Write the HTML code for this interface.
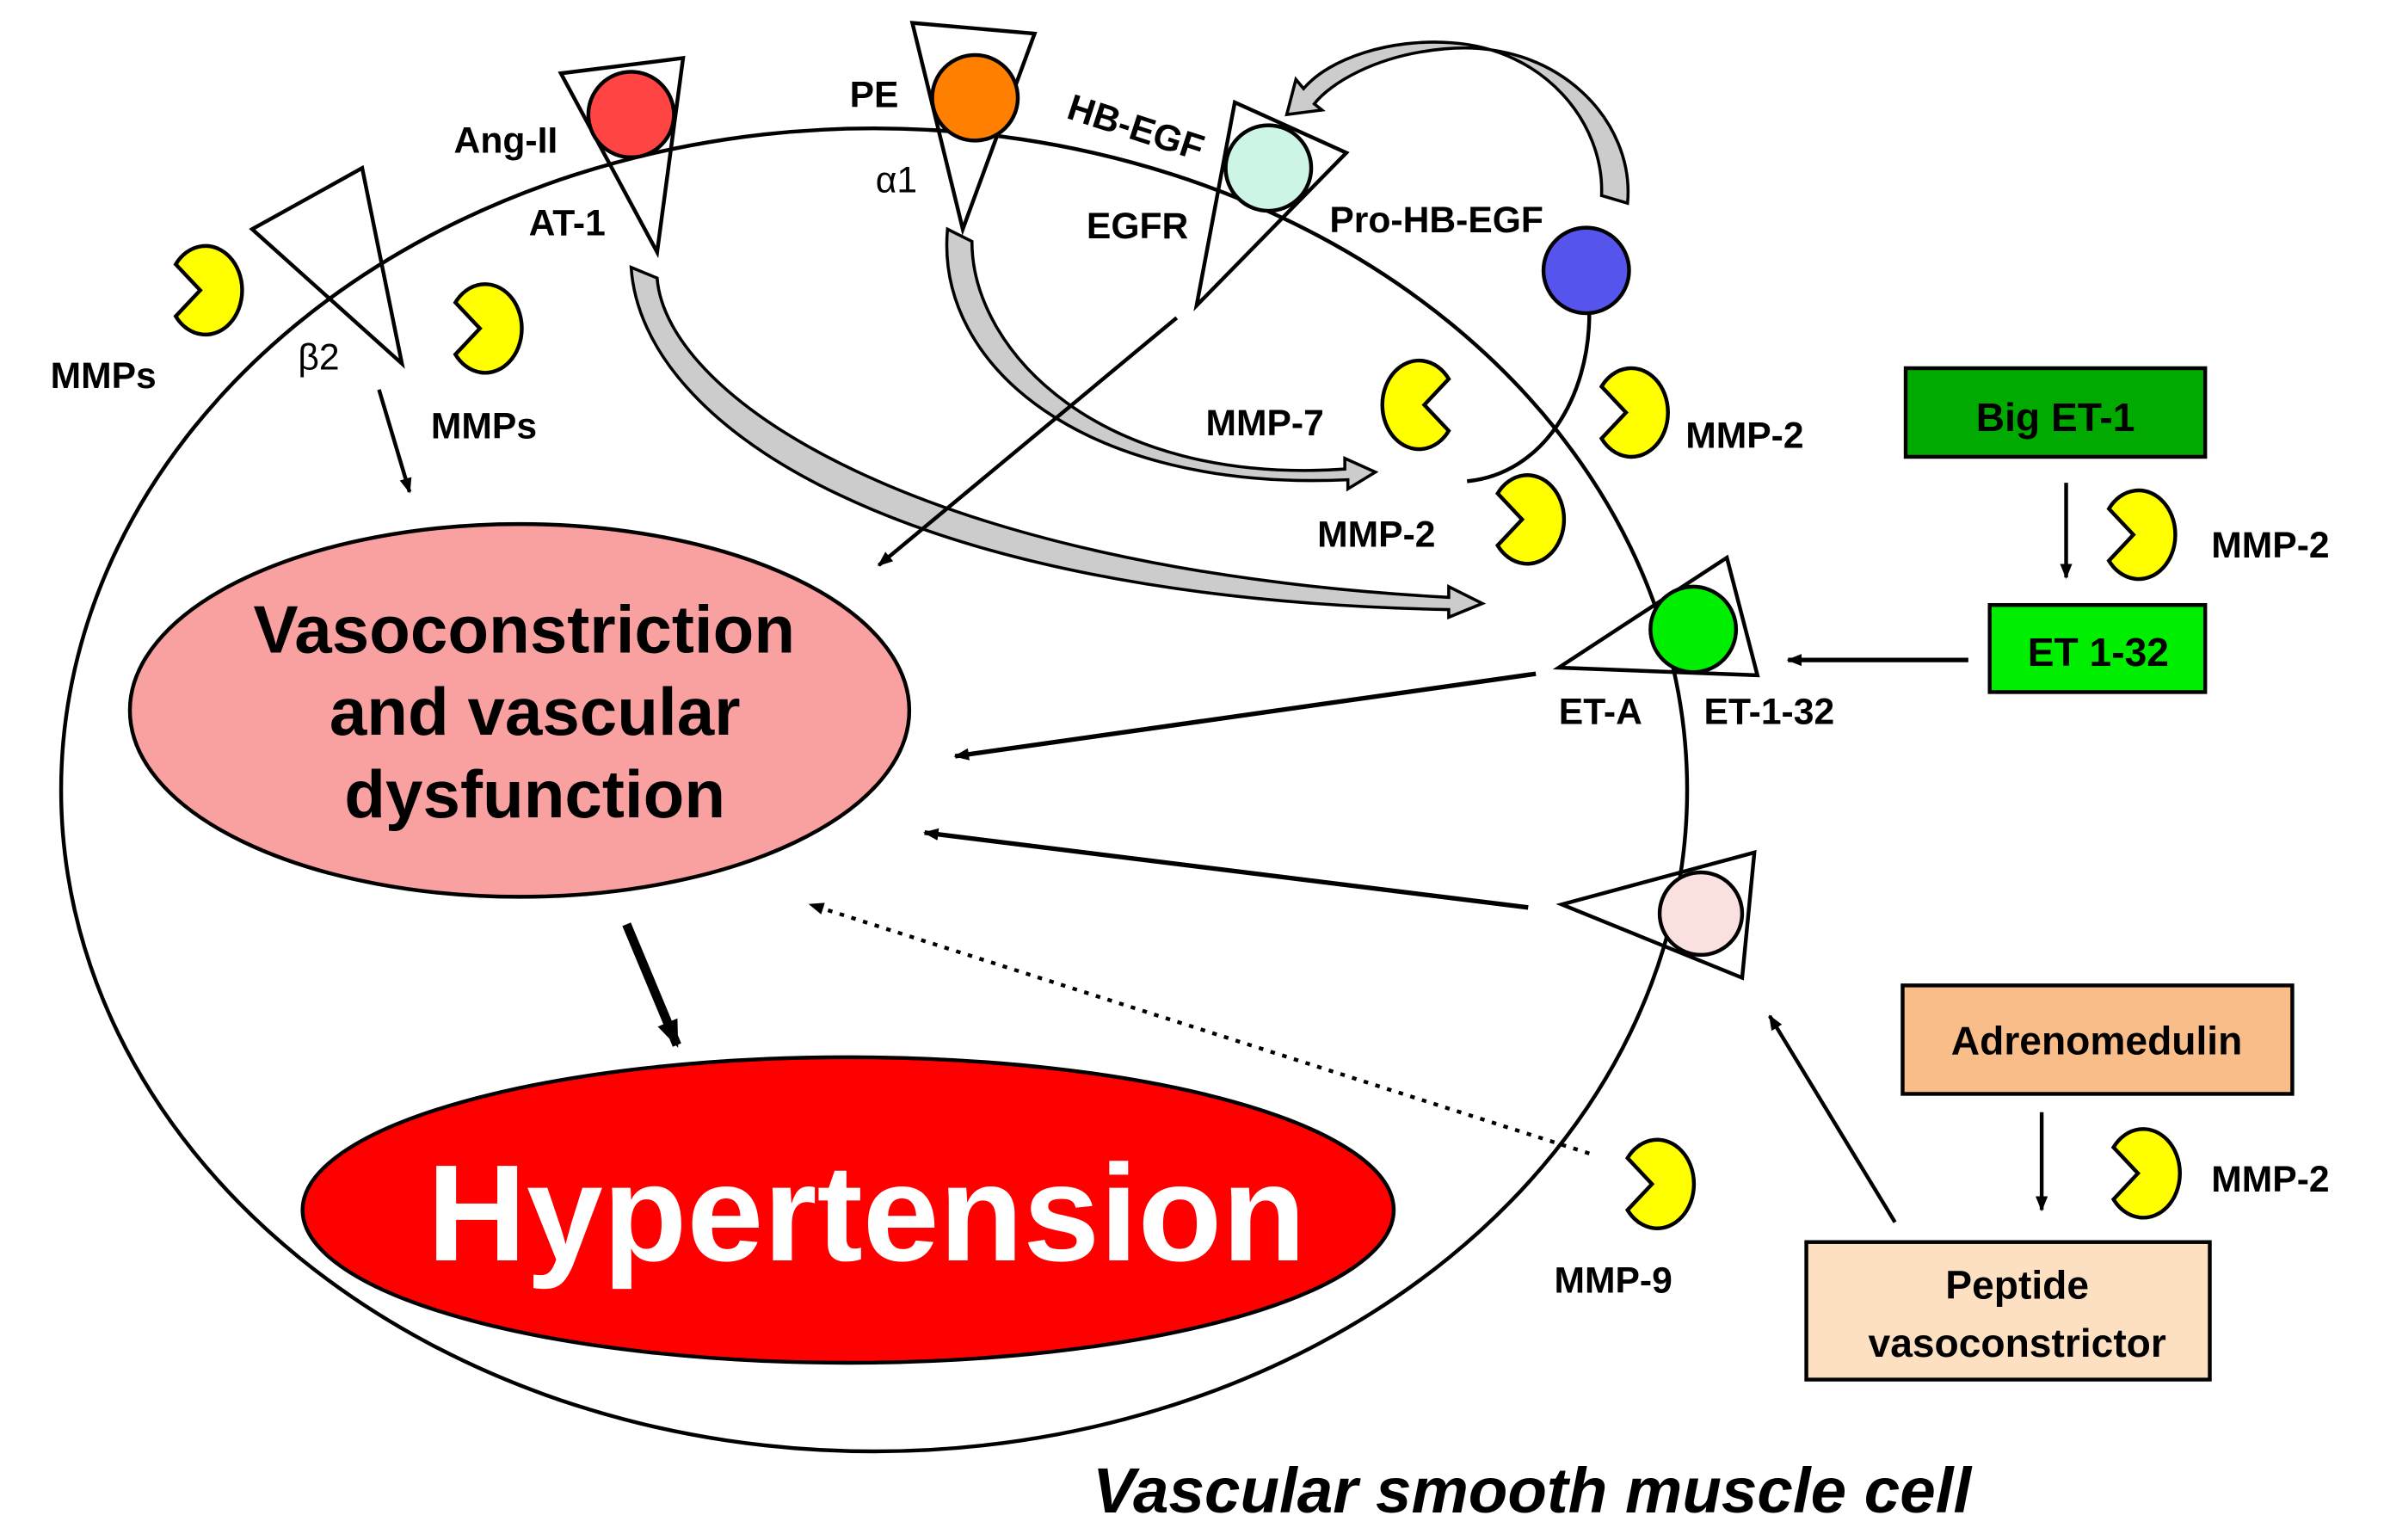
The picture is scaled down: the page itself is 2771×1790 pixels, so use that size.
<!DOCTYPE html>
<html><head><meta charset="utf-8"><style>
html,body{margin:0;padding:0;background:#fff;}
svg{display:block;}
text{font-family:"Liberation Sans",Arial,sans-serif;font-weight:bold;fill:#000;}
</style></head><body>
<svg width="2771" height="1790" viewBox="0 0 1560 1008" preserveAspectRatio="none" xmlns="http://www.w3.org/2000/svg">
<defs>
<marker id="ah" markerWidth="10" markerHeight="8" refX="9" refY="4" orient="auto" markerUnits="userSpaceOnUse" viewBox="0 0 10 8"><path d="M0,0 L10,4 L0,8 z" fill="#000"/></marker>
<marker id="ah2" markerWidth="18" markerHeight="14" refX="16" refY="7" orient="auto" markerUnits="userSpaceOnUse" viewBox="0 0 18 14"><path d="M0,0 L18,7 L0,14 z" fill="#000"/></marker>
<g id="pac"><path d="M-4,0 L-20,-17 A24,29 0 1 1 -20,17 Z" fill="#ffff00" stroke="#000" stroke-width="2.5"/></g>
</defs>
<!-- cell -->
<ellipse cx="572" cy="517" rx="532" ry="433" fill="none" stroke="#000" stroke-width="2.5"/>
<!-- ellipses -->
<ellipse cx="340" cy="465" rx="255" ry="122" fill="#f9a0a0" stroke="#000" stroke-width="2.5"/>
<text x="343" y="427" font-size="44" text-anchor="middle">Vasoconstriction</text>
<text x="350" y="481" font-size="44" text-anchor="middle">and vascular</text>
<text x="350" y="535" font-size="44" text-anchor="middle">dysfunction</text>
<ellipse cx="555" cy="792" rx="357" ry="100" fill="#ff0000" stroke="#000" stroke-width="2.5"/>
<text x="567" y="825" font-size="90" text-anchor="middle" style="fill:#fff">Hypertension</text>
<!-- curves -->
<path d="M413,175 L430,182 C436,260 600,372 948,391 L948,384 L970,395 L948,404 L948,399 C590,392 420,280 413,175 Z" fill="#ccc" stroke="#000" stroke-width="2"/>
<path d="M620,150 L636,158 C636,230 720,318 880,307 L880,300 L900,309 L882,320 L882,314 C710,322 612,240 620,150 Z" fill="#ccc" stroke="#000" stroke-width="2"/>
<path d="M1040,205 C1040,260 1010,310 960,315" fill="none" stroke="#000" stroke-width="2.5"/>
<path d="M1048,128 L1065,133 C1070,80 1020,25 945,32 C900,36 870,55 860,68 L865,72 L842,75 L848,52 L853,58 C870,38 910,25 950,28 C1010,32 1050,80 1048,128 Z" fill="#ccc" stroke="#000" stroke-width="2"/>
<!-- receptors -->
<polygon points="165,150 237,110 263,238" fill="none" stroke="#000" stroke-width="2.5"/>
<polygon points="367,48 447,38 430,165" fill="none" stroke="#000" stroke-width="2.5"/>
<circle cx="413" cy="75" r="28" fill="#f44" stroke="#000" stroke-width="2.5"/>
<polygon points="597,15 677,22 630,150" fill="none" stroke="#000" stroke-width="2.5"/>
<circle cx="638" cy="64" r="28" fill="#ff8000" stroke="#000" stroke-width="2.5"/>
<polygon points="808,67 881,100 783,200" fill="none" stroke="#000" stroke-width="2.5"/>
<circle cx="830" cy="110" r="28" fill="#ccf5e5" stroke="#000" stroke-width="2.5"/>
<circle cx="1038" cy="177" r="28" fill="#5555ee" stroke="#000" stroke-width="2.5"/>
<polygon points="1020,437 1130,365 1150,442" fill="none" stroke="#000" stroke-width="2.5"/>
<circle cx="1108" cy="412" r="28" fill="#00ee00" stroke="#000" stroke-width="2.5"/>
<polygon points="1022,592 1148,558 1140,640" fill="none" stroke="#000" stroke-width="2.5"/>
<circle cx="1113" cy="598" r="27" fill="#fbe0e0" stroke="#000" stroke-width="2.5"/>
<!-- pacmen -->
<use href="#pac" transform="translate(135,190)"/>
<use href="#pac" transform="translate(318,215)"/>
<use href="#pac" transform="translate(928,265) scale(-1,1)"/>
<use href="#pac" transform="translate(1068,270)"/>
<use href="#pac" transform="translate(1000,340)"/>
<use href="#pac" transform="translate(1400,350)"/>
<use href="#pac" transform="translate(1403,768)"/>
<use href="#pac" transform="translate(1085,775)"/>
<!-- arrows -->
<g stroke="#000" stroke-width="2.5" fill="none">
<line x1="248" y1="255" x2="268" y2="322" marker-end="url(#ah)"/>
<line x1="770" y1="208" x2="575" y2="370" marker-end="url(#ah)"/>
<line x1="1005" y1="441" x2="625" y2="495" stroke-width="3" marker-end="url(#ah)"/>
<line x1="1000" y1="594" x2="605" y2="545" stroke-width="3" marker-end="url(#ah)"/>
<line x1="1040" y1="755" x2="530" y2="592" stroke-dasharray="3,5" marker-end="url(#ah)"/>
<line x1="410" y1="605" x2="443" y2="684" stroke-width="6" marker-end="url(#ah2)"/>
<line x1="1352" y1="316" x2="1352" y2="378" marker-end="url(#ah)"/>
<line x1="1288" y1="432" x2="1170" y2="432" stroke-width="3" marker-end="url(#ah)"/>
<line x1="1336" y1="728" x2="1336" y2="792" marker-end="url(#ah)"/>
<line x1="1240" y1="800" x2="1158" y2="665" marker-end="url(#ah)"/>
</g>
<!-- boxes -->
<rect x="1247" y="241" width="196" height="58" fill="#00aa00" stroke="#000" stroke-width="2.5"/>
<text x="1345" y="282" font-size="26" text-anchor="middle">Big ET-1</text>
<rect x="1302" y="396" width="141" height="57" fill="#00ee00" stroke="#000" stroke-width="2.5"/>
<text x="1373" y="436" font-size="26" text-anchor="middle">ET 1-32</text>
<rect x="1245" y="645" width="255" height="71" fill="#f9bd8a" stroke="#000" stroke-width="2.5"/>
<text x="1372" y="690" font-size="26" text-anchor="middle">Adrenomedulin</text>
<rect x="1182" y="813" width="264" height="90" fill="#fde0c2" stroke="#000" stroke-width="2.5"/>
<text x="1320" y="850" font-size="26" text-anchor="middle">Peptide</text>
<text x="1320" y="888" font-size="26" text-anchor="middle">vasoconstrictor</text>
<!-- labels -->
<g font-size="24">
<text x="297" y="100">Ang-II</text>
<text x="556" y="70">PE</text>
<text x="573" y="126" style="font-weight:normal">α1</text>
<text x="346" y="154">AT-1</text>
<text x="697" y="77" transform="rotate(18 697 77)">HB-EGF</text>
<text x="711" y="156">EGFR</text>
<text x="870" y="152">Pro-HB-EGF</text>
<text x="33" y="254">MMPs</text>
<text x="195" y="242" style="font-weight:normal">β2</text>
<text x="282" y="287">MMPs</text>
<text x="789" y="285">MMP-7</text>
<text x="1103" y="293">MMP-2</text>
<text x="862" y="358">MMP-2</text>
<text x="1447" y="365">MMP-2</text>
<text x="1020" y="474">ET-A</text>
<text x="1115" y="474">ET-1-32</text>
<text x="1447" y="780">MMP-2</text>
<text x="1017" y="846">MMP-9</text>
</g>
<text x="715" y="990" font-size="42" font-style="italic">Vascular smooth muscle cell</text>
</svg>
</body></html>
